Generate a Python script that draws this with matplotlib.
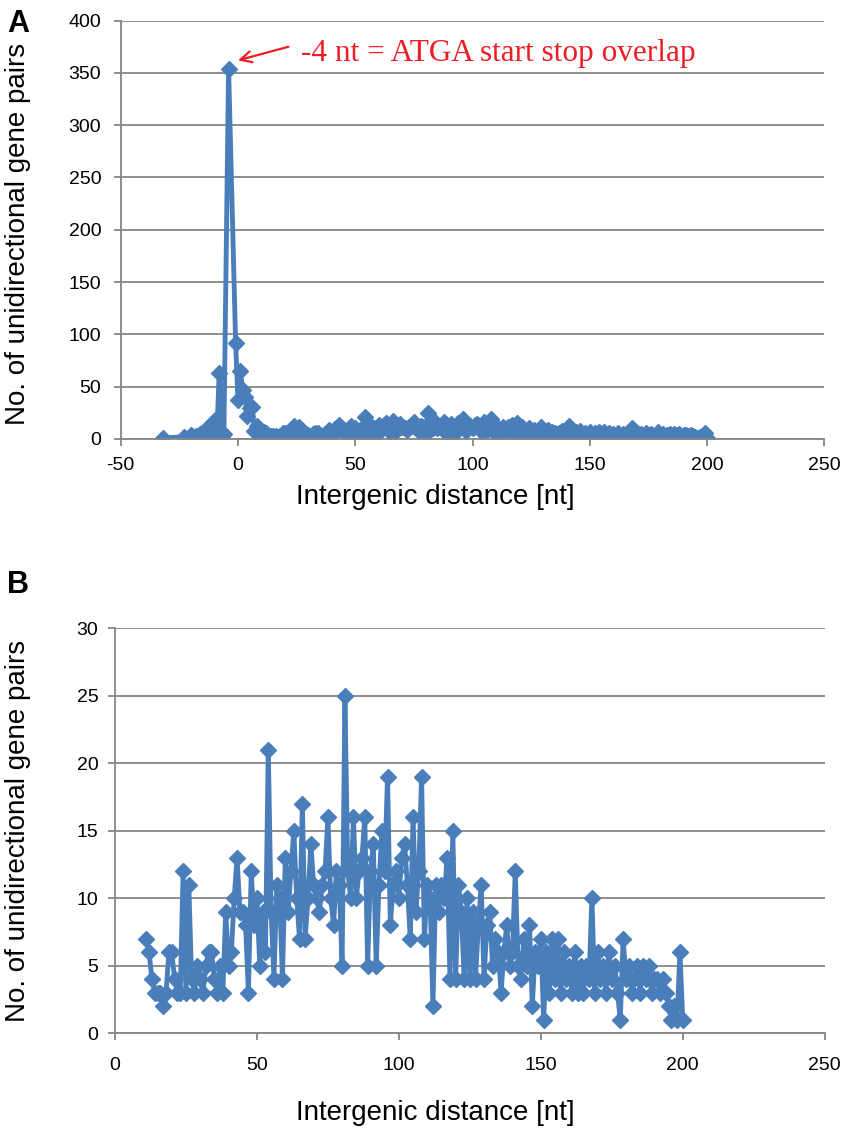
import numpy as np
import matplotlib.pyplot as plt

plt.rcParams['font.family'] = ['Liberation Sans', 'DejaVu Sans']
plt.rcParams['axes.unicode_minus'] = False

# intergenic distance vs. number of unidirectional gene pairs
# overlapping part (distance <= 10), only seen in panel A
x_short = [-32, -23, -20, -18, -16, -14, -13, -12, -11, -10, -9, -8, -7, -6, -4,
           -1, 0, 1, 2, 3, 4, 5, 6, 7, 8, 9, 10]
y_short = [1, 2, 4, 3, 5, 4, 10, 6, 12, 18, 5, 63, 3, 5, 354,
           92, 37, 65, 47, 40, 22, 30, 31, 8, 12, 5, 8]

# distances 11..200 (panel B, also the tail of panel A)
x_long = list(range(11, 201))
y_long = [7, 6, 4, 3, 3, 3, 2, 3, 6, 6,          # 11-20
          4, 3, 3, 12, 3, 11, 4, 3, 5, 4,        # 21-30
          3, 5, 6, 6, 4, 3, 5, 3, 9, 5,          # 31-40
          6, 10, 13, 9, 9, 8, 3, 12, 8, 10,      # 41-50
          5, 9, 6, 21, 9, 4, 11, 10, 4, 13,      # 51-60
          9, 12, 15, 10, 7, 17, 7, 10, 14, 11,   # 61-70
          10, 9, 11, 12, 16, 10, 8, 12, 11, 5,   # 71-80
          25, 12, 10, 16, 10, 12, 13, 16, 5, 12, # 81-90
          14, 5, 11, 15, 12, 19, 8, 11, 12, 10,  # 91-100
          13, 14, 11, 7, 16, 9, 12, 19, 7, 11,   # 101-110
          10, 2, 11, 9, 11, 10, 13, 4, 15, 4,    # 111-120
          11, 9, 4, 10, 4, 9, 4, 8, 11, 4,       # 121-130
          8, 9, 5, 7, 6, 3, 6, 8, 5, 6,          # 131-140
          12, 5, 4, 7, 5, 8, 2, 6, 5, 7,         # 141-150
          1, 6, 3, 7, 4, 7, 3, 6, 4, 5,          # 151-160
          3, 6, 3, 5, 3, 5, 4, 10, 3, 6,         # 161-170
          4, 5, 3, 6, 4, 5, 3, 1, 7, 4,          # 171-180
          5, 3, 4, 5, 3, 5, 4, 5, 3, 4,          # 181-190
          4, 3, 4, 3, 2, 1, 2, 1, 6, 1]          # 191-200

x_all = x_short + x_long
y_all = y_short + y_long

blue = '#4a7ebb'
grey = '#868686'
red = '#ee1c25'

fig = plt.figure(figsize=(8.51, 11.46), dpi=100)
axA = fig.add_axes([0.1418, 0.617, 0.827, 0.365])
axB = fig.add_axes([0.1351, 0.0986, 0.834, 0.3534])


def style(ax, xpad, ypad):
    ax.spines['top'].set_visible(False)
    ax.spines['right'].set_visible(False)
    for s in ['left', 'bottom']:
        ax.spines[s].set_color(grey)
        ax.spines[s].set_linewidth(1.3)
    ax.yaxis.grid(True, color=grey, linewidth=1.3)
    ax.set_axisbelow(True)
    ax.tick_params(direction='out', length=5, width=1.3, color=grey, labelsize=14)
    ax.tick_params(axis='x', pad=xpad)
    ax.tick_params(axis='y', pad=ypad)
    ax.set_xlabel('Intergenic distance [nt]', fontsize=20)
    ax.set_ylabel('No. of unidirectional gene pairs', fontsize=20)


axA.plot(x_all, y_all, color=blue, lw=3.5, marker='D', ms=8.5, mec=blue, mfc=blue)
axA.set_xlim(-50, 250)
axA.set_ylim(0, 400)
axA.set_xticks(np.arange(-50, 251, 50))
axA.set_yticks(np.arange(0, 401, 50))
style(axA, 8, 9)
axA.xaxis.set_label_coords(0.447, -0.139)
axA.xaxis.label.set_va('center')
axA.yaxis.set_label_coords(-0.146, 0.49)
axA.yaxis.label.set_va('center')
axA.annotate('', xy=(0, 362), xytext=(21.5, 375),
             arrowprops=dict(arrowstyle='->', color=red, lw=1.6,
                             shrinkA=0, shrinkB=0, mutation_scale=20))
axA.text(27, 369, '-4 nt = ATGA start stop overlap', color=red, fontsize=22.5,
         family='Liberation Serif', ha='left', va='center')

axB.plot(x_long, y_long, color=blue, lw=3.5, marker='D', ms=8.5, mec=blue, mfc=blue)
axB.set_xlim(0, 250)
axB.set_ylim(0, 30)
axB.set_xticks(np.arange(0, 251, 50))
axB.set_yticks(np.arange(0, 31, 5))
style(axB, 12, 7)
axB.xaxis.set_label_coords(0.451, -0.198)
axB.xaxis.label.set_va('center')
axB.yaxis.set_label_coords(-0.137, 0.5)
axB.yaxis.label.set_va('center')

fig.text(0.008, 0.992, 'A', fontsize=22, fontweight='bold', va='top')
fig.text(0.008, 0.503, 'B', fontsize=22, fontweight='bold', va='top')

fig.savefig('out.png', dpi=100)
